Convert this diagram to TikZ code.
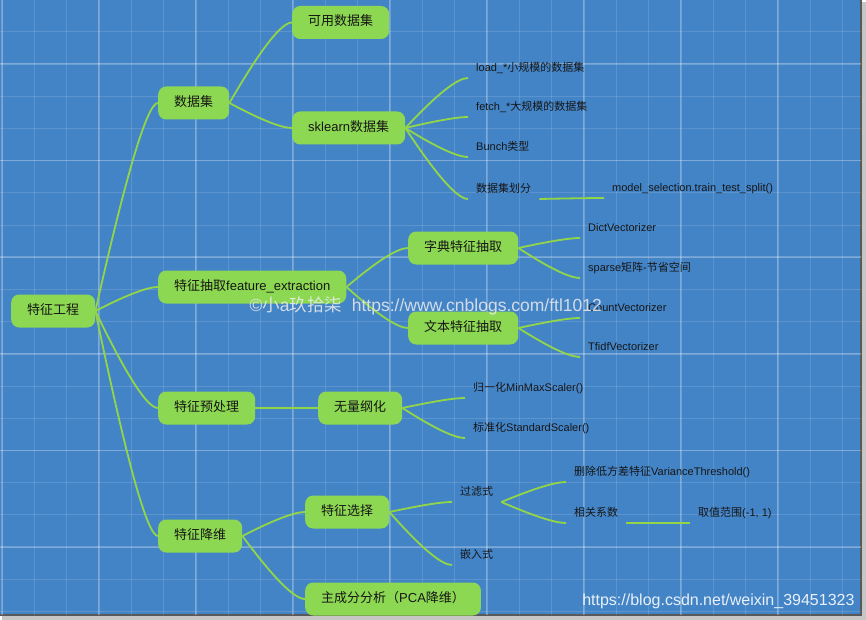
\documentclass[tikz,border=0pt]{standalone}
\usepackage{fontspec}
\setmainfont{Liberation Sans}
\newfontfamily\zhfont{Noto Sans CJK SC}
\newcommand{\zh}[1]{{\zhfont #1}}
\usetikzlibrary{calc}
\definecolor{mmblue}{RGB}{67,132,199}
\definecolor{mmgreen}{RGB}{141,216,82}
\definecolor{mmline}{RGB}{146,214,72}
\definecolor{mmtext}{RGB}{22,22,22}

\tikzset{
  topic/.style={anchor=west, fill=mmgreen, rounded corners=8pt, minimum height=33pt,
    inner xsep=16pt, text height=10pt, text depth=3pt, text=mmtext,
    font=\fontsize{13}{15}\selectfont},
  leaf/.style={anchor=south west, inner xsep=8pt, inner ysep=4pt, text height=9pt,
    text depth=2pt, text=mmtext, font=\fontsize{11}{13}\selectfont},
  branch/.style={draw=mmline, line width=1.8pt,
    to path={let \p1=(\tikztostart), \p2=(\tikztotarget) in
      .. controls ({\x1+0.5*(\x2-\x1)}, {\y1+0.67*(\y2-\y1)})
         and ({\x2-0.17*(\x2-\x1)}, {\y2}) .. (\tikztotarget)}},
  gridminor/.style={white, opacity=0.13, line width=1pt},
  gridmajor/.style={white, opacity=0.22, line width=1.6pt},
}

\begin{document}
\begin{tikzpicture}[x=1pt, y=-1pt]
    \useasboundingbox (0,0) rectangle (866,620);
    % Fondo con marco
    \fill[white] (0,0) rectangle (866,620);
    \fill[gray!45] (2,2) rectangle (866,620);
    \fill[mmblue] (0,0) rectangle (861,615);
    \draw[black!65, line width=1.2pt] (861,0) -- (861,615) -- (0,615);

    % Cuadricula
    \foreach \k in {0,...,26}
      \draw[gridminor] ({2+32.33*\k},0) -- ({2+32.33*\k},615);
    \foreach \k in {1,...,19}
      \draw[gridminor] (0,{-0.4+32.2*\k}) -- (861,{-0.4+32.2*\k});
    \foreach \k in {0,...,8}
      \draw[gridmajor] ({2+97*\k},0) -- ({2+97*\k},615);
    \foreach \k in {0,...,5}
      \draw[gridmajor] (0,{64+96.6*\k}) -- (861,{64+96.6*\k});

    % Tema central y ramas principales
    \node[topic] (root) at (11,311) {\zh{特征工程}};
    \node[topic] (ds) at (158,103) {\zh{数据集}};
    \node[topic] (fe) at (158,287) {\zh{特征抽取}feature\_extraction};
    \node[topic] (pre) at (158,408) {\zh{特征预处理}};
    \node[topic] (dr) at (158,536) {\zh{特征降维}};

    % Subtemas
    \node[topic] (dsavail) at (292,22.5) {\zh{可用数据集}};
    \node[topic] (dssk) at (292,128) {sklearn\zh{数据集}};
    \node[topic] (fedict) at (408,248) {\zh{字典特征抽取}};
    \node[topic] (fetext) at (408,328) {\zh{文本特征抽取}};
    \node[topic] (prescale) at (318,408) {\zh{无量纲化}};
    \node[topic] (drsel) at (305,512) {\zh{特征选择}};
    \node[topic] (drpca) at (305,599) {\zh{主成分分析（}PCA\zh{降维）}};

    % Hojas
    \node[leaf] (skload) at (468,78) {load\_*\zh{小规模的数据集}};
    \node[leaf] (skfetch) at (468,117) {fetch\_*\zh{大规模的数据集}};
    \node[leaf] (skbunch) at (468,157) {Bunch\zh{类型}};
    \node[leaf] (sksplit) at (468,199) {\zh{数据集划分}};
    \node[leaf] (sksplitfn) at (604,198) {model\_selection.train\_test\_split()};
    \node[leaf] (dictvec) at (580,238) {DictVectorizer};
    \node[leaf] (dictsparse) at (580,278) {sparse\zh{矩阵}-\zh{节省空间}};
    \node[leaf] (countvec) at (580,318) {CountVectorizer};
    \node[leaf] (tfidfvec) at (580,357) {TfidfVectorizer};
    \node[leaf] (minmax) at (465,398) {\zh{归一化}MinMaxScaler()};
    \node[leaf] (standard) at (465,438) {\zh{标准化}StandardScaler()};
    \node[leaf] (filter) at (452,502) {\zh{过滤式}};
    \node[leaf] (embed) at (452,565) {\zh{嵌入式}};
    \node[leaf] (variance) at (566,482) {\zh{删除低方差特征}VarianceThreshold()};
    \node[leaf] (corr) at (566,523) {\zh{相关系数}};
    \node[leaf] (corrrange) at (690,523) {\zh{取值范围}(-1, 1)};

    % Conectores
    \draw[branch] (root.east) to (ds.west);
    \draw[branch] (root.east) to (fe.west);
    \draw[branch] (root.east) to (pre.west);
    \draw[branch] (root.east) to (dr.west);
    \draw[branch] (ds.east) to (dsavail.west);
    \draw[branch] (ds.east) to (dssk.west);
    \draw[branch] (dssk.east) to (skload.south west);
    \draw[branch] (dssk.east) to (skfetch.south west);
    \draw[branch] (dssk.east) to (skbunch.south west);
    \draw[branch] (dssk.east) to (sksplit.south west);
    \draw[branch] (sksplit.south east) to (sksplitfn.south west);
    \draw[branch] (fe.east) to (fedict.west);
    \draw[branch] (fe.east) to (fetext.west);
    \draw[branch] (fedict.east) to (dictvec.south west);
    \draw[branch] (fedict.east) to (dictsparse.south west);
    \draw[branch] (fetext.east) to (countvec.south west);
    \draw[branch] (fetext.east) to (tfidfvec.south west);
    \draw[branch] (pre.east) to (prescale.west);
    \draw[branch] (prescale.east) to (minmax.south west);
    \draw[branch] (prescale.east) to (standard.south west);
    \draw[branch] (dr.east) to (drsel.west);
    \draw[branch] (dr.east) to (drpca.west);
    \draw[branch] (drsel.east) to (filter.south west);
    \draw[branch] (drsel.east) to (embed.south west);
    \draw[branch] (filter.south east) to (variance.south west);
    \draw[branch] (filter.south east) to (corr.south west);
    \draw[branch] (corr.south east) to (corrrange.south west);

    % Marcas de agua
    \node[anchor=west, text=white!85!gray, opacity=0.85, font=\fontsize{17.5}{20}\selectfont]
      (wmblog) at (246,306) {©\zh{小}a\zh{玖拾柒}\ \ https://www.cnblogs.com/ftl1012};
    \node[anchor=east, text=white, opacity=0.88, font=\fontsize{16}{18}\selectfont]
      (wmcsdn) at (858,601) {https://blog.csdn.net/weixin\_39451323};
\end{tikzpicture}
\end{document}
